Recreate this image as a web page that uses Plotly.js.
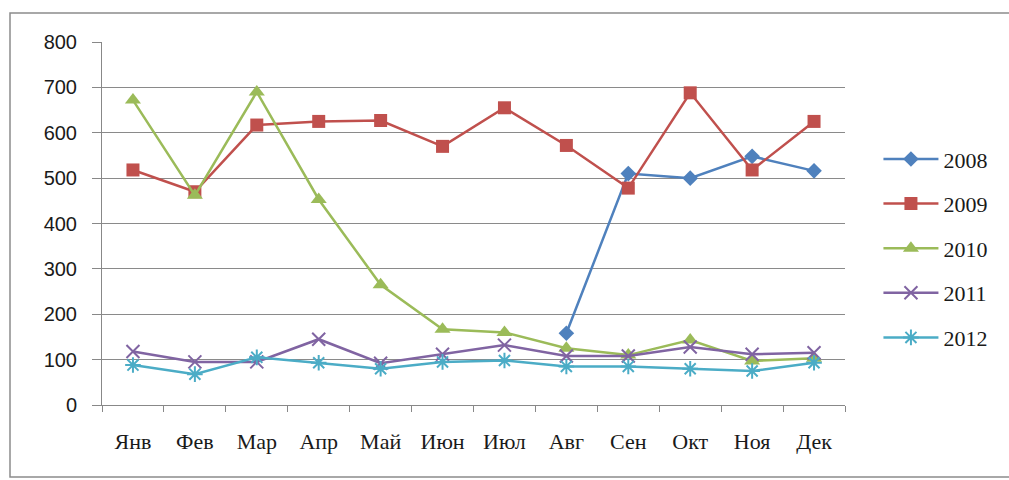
<!DOCTYPE html>
<html><head><meta charset="utf-8">
<script src="https://cdn.plot.ly/plotly-3.0.1.min.js"></script>
<style>html,body{margin:0;padding:0;background:#fff;}#c{width:1009px;height:480px;}</style>
</head><body><div id="c"></div>
<script>
const months = ["Янв","Фев","Мар","Апр","Май","Июн","Июл","Авг","Сен","Окт","Ноя","Дек"];
const s2008 = [null,null,null,null,null,null,null,158,510,500,548,516];
const s2009 = [518,470,617,625,627,570,655,572,478,688,518,625];
const s2010 = [672,462,690,453,265,167,160,125,110,143,97,103];
const s2011 = [118,95,95,145,92,112,132,108,108,128,112,115];
const s2012 = [88,68,105,93,80,95,98,85,85,80,75,93];
const yTicks = [0,100,200,300,400,500,600,700,800];

const serif = '"Liberation Serif", "Times New Roman", serif';
const sans = '"Liberation Sans", Arial, sans-serif';
function tr(name, y, color, symbol, size, open){
  return {x:months, y:y, name:name, type:"scatter", mode:"lines+markers", legendgroup:name,
    line:{color:color, width:2.5},
    marker:{symbol:symbol, size:size, color:color, line:{color:color, width: open?2:0}},
    connectgaps:false};
}
const data = [
  tr("2008", s2008, "#4F81BD", "diamond", 12, false),
  tr("2009", s2009, "#C0504D", "square", 13, false),
  tr("2010", s2010, "#9BBB59", "triangle-up", 14, false),
  tr("2011", s2011, "#8064A2", "x-thin-open", 13, true),
  tr("2012", s2012, "#4BACC6", "asterisk-open", 13, true)
];
const layout = {
  width:1009, height:480,
  margin:{l:102, r:164, t:42, b:75},
  paper_bgcolor:"#fff", plot_bgcolor:"#fff",
  font:{family:serif, size:18, color:"#000"}, showlegend:true,
  legend:{x:1.045, y:0.735, xanchor:"left", yanchor:"top", font:{family:serif,size:22,color:"#1a1a1a"},
    tracegroupgap:13, itemwidth:55, bgcolor:"rgba(0,0,0,0)"},
  xaxis:{type:"category", categoryorder:"array", categoryarray:months, range:[-0.5,11.5],
    showgrid:false, showline:true, linecolor:"#888", linewidth:1, ticks:"outside", tickson:"boundaries",
    ticklen:6, tickcolor:"#888", tickfont:{family:serif, size:22, color:"#1a1a1a"}, zeroline:false, ticklabelstandoff:17},
  yaxis:{range:[0,800], tickvals:yTicks, ticktext:yTicks.map(String), showgrid:true, gridcolor:"#8a8a8a", gridwidth:1,
    showline:true, linecolor:"#888", linewidth:1, ticks:"outside", ticklen:9, tickcolor:"#888",
    tickfont:{family:sans, size:20, color:"#1a1a1a"}, zeroline:false, ticklabelstandoff:11},
  shapes:[{type:"rect", xref:"paper", yref:"paper", x0:(10-102)/743, x1:(1012-102)/743, y0:(405-477)/363, y1:(405-13)/363,
    line:{color:"#8c8c8c", width:1.5}, fillcolor:"rgba(0,0,0,0)", layer:"below"}]
};
Plotly.newPlot("c", data, layout, {staticPlot:true});
</script></body></html>
